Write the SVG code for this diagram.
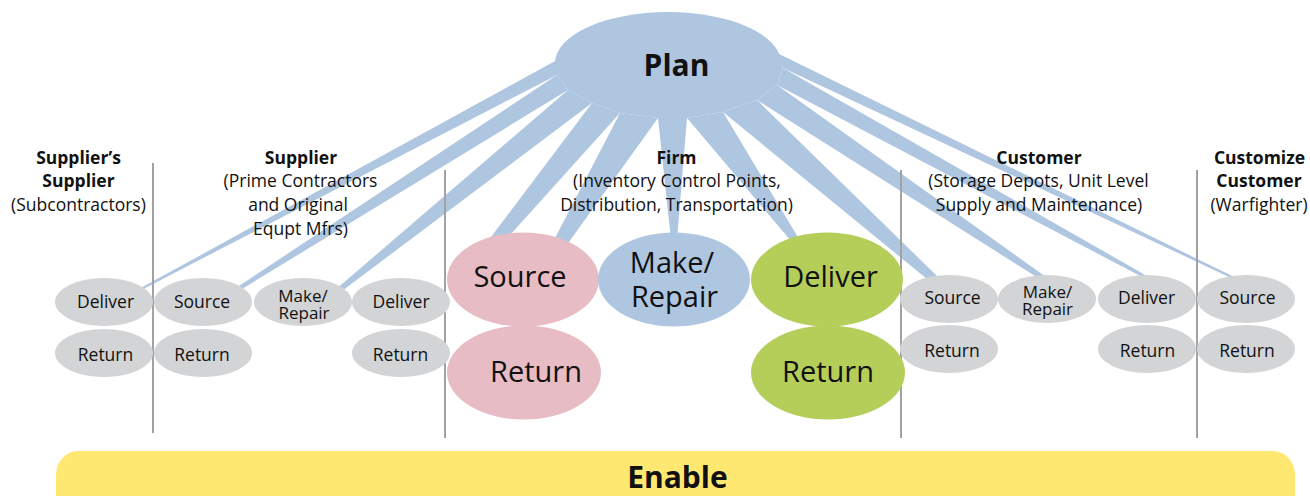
<svg xmlns="http://www.w3.org/2000/svg" width="1310" height="496" viewBox="0 0 1310 496">
  <style>
    .ray { fill: #AFC6E1; }
    .plan { fill: #AFC6E1; }
    .gray { fill: #D3D4D6; }
    .pink { fill: #E8BCC4; }
    .blue { fill: #AFC6E1; }
    .green { fill: #B5CE5A; }
    .enable { fill: #FFE872; }
    .divider { stroke: #A2A2A2; stroke-width: 2; fill: none; }
    text { font-family: "Open Sans", "Noto Sans", "Liberation Sans", sans-serif; fill: #111; text-anchor: middle; }
    .s { font-size: 17.5px; }
    .s2 { font-size: 17px; }
    .hb { font-size: 17.5px; font-weight: bold; }
    .hr { font-size: 17.5px; }
    .big { font-size: 29px; }
    .title { font-size: 30px; font-weight: bold; }
  </style>

  <!-- tapered planning links fanning out from the Plan hub -->
  <g id="connectors">
    <polygon class="ray" points="557,60 557,75 141.5,289.9 140.5,288.1"/>
    <polygon class="ray" points="557,75 568,90 239.1,290.7 236.9,287.3"/>
    <polygon class="ray" points="568,90 592,103 340.6,292 337.4,288"/>
    <polygon class="ray" points="592,103 620,113 500,246 488,241"/>
    <polygon class="ray" points="620,113 658,118 566,246 554,240"/>
    <polygon class="ray" points="658,118 687,118 677,240 671,240"/>
    <polygon class="ray" points="687,118 723,112 799,239 791,241"/>
    <polygon class="ray" points="723,112 757,100 938,277 927,279"/>
    <polygon class="ray" points="757,100 777,85 1047.4,277.9 1044.6,282.1"/>
    <polygon class="ray" points="777,85 783,68 1151.7,278.7 1150.3,281.3"/>
    <polygon class="ray" points="783,68 777,53 1238.4,279.1 1237.6,280.9"/>
  </g>

  <!-- tier dividers -->
  <g id="dividers">
    <line class="divider" x1="153" y1="163" x2="153" y2="433"/>
    <line class="divider" x1="445" y1="170" x2="445" y2="438"/>
    <line class="divider" x1="901" y1="170" x2="901" y2="438"/>
    <line class="divider" x1="1197" y1="170" x2="1197" y2="438"/>
  </g>

  <g id="plan">
    <polygon class="plan" points="557,60 557,75 568,90 592,103 620,113 658,118 687,118 723,112 757,100 777,85 783,68 777,53 668,63"/>
    <ellipse class="plan" cx="668" cy="63" rx="113" ry="51"/>
    <text class="title" x="676.5" y="76">Plan</text>
  </g>

  <!-- column headings -->
  <g id="hdr-suppliers-supplier">
    <text class="hb" x="78.5" y="164">Supplier’s</text>
    <text class="hb" x="78.5" y="187">Supplier</text>
    <text class="hr" x="78.5" y="211">(Subcontractors)</text>
  </g>
  <g id="hdr-supplier">
    <text class="hb" x="301" y="164">Supplier</text>
    <text class="hr" x="300.5" y="187">(Prime Contractors</text>
    <text class="hr" x="298" y="211">and Original</text>
    <text class="hr" x="300.5" y="235">Equpt Mfrs)</text>
  </g>
  <g id="hdr-firm">
    <text class="hb" x="676.5" y="164">Firm</text>
    <text class="hr" x="677" y="187">(Inventory Control Points,</text>
    <text class="hr" x="676.5" y="211">Distribution, Transportation)</text>
  </g>
  <g id="hdr-customer">
    <text class="hb" x="1039" y="164">Customer</text>
    <text class="hr" x="1038.5" y="187">(Storage Depots, Unit Level</text>
    <text class="hr" x="1039" y="211">Supply and Maintenance)</text>
  </g>
  <g id="hdr-customize-customer">
    <text class="hb" x="1259.5" y="164">Customize</text>
    <text class="hb" x="1259" y="187">Customer</text>
    <text class="hr" x="1259" y="211">(Warfighter)</text>
  </g>

  <!-- supplier's supplier -->
  <g id="ss-deliver">
    <ellipse class="gray" cx="104" cy="302" rx="49" ry="24"/>
    <text class="s" x="105.5" y="308">Deliver</text>
  </g>
  <g id="ss-return">
    <ellipse class="gray" cx="104" cy="353" rx="49" ry="24"/>
    <text class="s" x="105.5" y="361">Return</text>
  </g>

  <!-- supplier -->
  <g id="sup-source">
    <ellipse class="gray" cx="203" cy="302" rx="49" ry="24"/>
    <text class="s" x="202" y="308">Source</text>
  </g>
  <g id="sup-return">
    <ellipse class="gray" cx="203" cy="353" rx="49" ry="24"/>
    <text class="s" x="202" y="361">Return</text>
  </g>
  <g id="sup-make-repair">
    <ellipse class="gray" cx="303" cy="302" rx="49" ry="24"/>
    <text class="s2" x="303" y="302">Make/</text>
    <text class="s2" x="304" y="319">Repair</text>
  </g>
  <g id="sup-deliver">
    <ellipse class="gray" cx="401" cy="302" rx="49" ry="24"/>
    <text class="s" x="401" y="308">Deliver</text>
  </g>
  <g id="sup-deliver-return">
    <ellipse class="gray" cx="401" cy="353" rx="49" ry="24"/>
    <text class="s" x="400.5" y="361">Return</text>
  </g>

  <!-- firm -->
  <g id="firm-source">
    <ellipse class="pink" cx="523" cy="279.5" rx="76" ry="47"/>
    <text class="big" x="520" y="287">Source</text>
  </g>
  <g id="firm-source-return">
    <ellipse class="pink" cx="524" cy="372.5" rx="77" ry="47"/>
    <text class="big" x="536" y="382">Return</text>
  </g>
  <g id="firm-make-repair">
    <ellipse class="blue" cx="674" cy="279.5" rx="76" ry="47"/>
    <text class="big" x="672" y="273">Make/</text>
    <text class="big" x="674.5" y="307">Repair</text>
  </g>
  <g id="firm-deliver">
    <ellipse class="green" cx="827" cy="279.5" rx="76" ry="47"/>
    <text class="big" x="830.5" y="287">Deliver</text>
  </g>
  <g id="firm-deliver-return">
    <ellipse class="green" cx="828" cy="372.5" rx="77" ry="47"/>
    <text class="big" x="828" y="382">Return</text>
  </g>

  <!-- customer -->
  <g id="cust-source">
    <ellipse class="gray" cx="949" cy="299" rx="49" ry="24"/>
    <text class="s" x="952.5" y="304">Source</text>
  </g>
  <g id="cust-return">
    <ellipse class="gray" cx="949" cy="349" rx="49" ry="24"/>
    <text class="s" x="952" y="357">Return</text>
  </g>
  <g id="cust-make-repair">
    <ellipse class="gray" cx="1047" cy="299" rx="49" ry="24"/>
    <text class="s2" x="1047.5" y="298">Make/</text>
    <text class="s2" x="1047.5" y="315">Repair</text>
  </g>
  <g id="cust-deliver">
    <ellipse class="gray" cx="1147" cy="299" rx="49" ry="24"/>
    <text class="s" x="1146.5" y="304">Deliver</text>
  </g>
  <g id="cust-deliver-return">
    <ellipse class="gray" cx="1147" cy="349" rx="49" ry="24"/>
    <text class="s" x="1147.5" y="357">Return</text>
  </g>

  <!-- customize customer -->
  <g id="cc-source">
    <ellipse class="gray" cx="1246" cy="299" rx="49" ry="24"/>
    <text class="s" x="1247.5" y="304">Source</text>
  </g>
  <g id="cc-return">
    <ellipse class="gray" cx="1246" cy="349" rx="49" ry="24"/>
    <text class="s" x="1247" y="357">Return</text>
  </g>

  <g id="enable">
    <rect class="enable" x="56" y="451" width="1239" height="70" rx="22" ry="24"/>
    <text class="title" x="677.5" y="488">Enable</text>
  </g>
</svg>
